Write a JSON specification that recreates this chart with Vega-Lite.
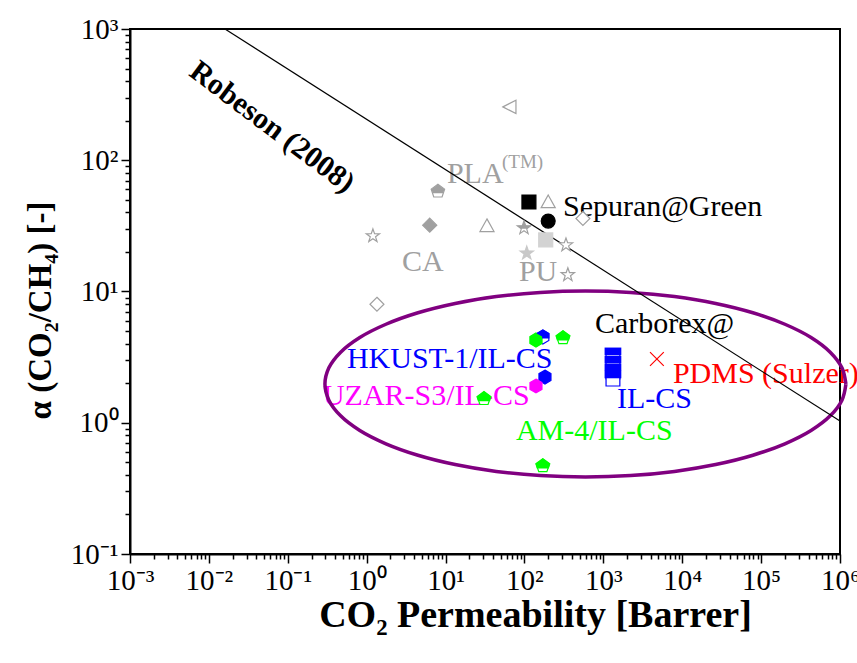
{
  "$schema": "https://vega.github.io/schema/vega-lite/v6.json",
  "autosize": "none",
  "width": 710,
  "height": 525,
  "padding": {"left": 130, "top": 29, "right": 17, "bottom": 109},
  "background": "white",
  "view": {"stroke": "black", "strokeWidth": 2},
  "config": {"font": "Liberation Serif"},
  "datasets": {
    "points": [
      {"series": "gTriLeft", "x": 65.5, "y": 255},
      {"series": "gPentHalf", "x": 8.0, "y": 58},
      {"series": "gDiamondFill", "x": 6.3, "y": 32},
      {"series": "gTriUp", "x": 33.5, "y": 31.6},
      {"series": "gTriUp", "x": 200, "y": 48.1},
      {"series": "gStarHalf", "x": 98.7, "y": 30.5},
      {"series": "lgStarFill", "x": 107, "y": 19.6},
      {"series": "lgSquareFill", "x": 186, "y": 24.7},
      {"series": "gStarOpen", "x": 336, "y": 22.6},
      {"series": "gStarOpen", "x": 355, "y": 13.4},
      {"series": "gStarOpen", "x": 1.2, "y": 26.5},
      {"series": "gDiamondOpen", "x": 551, "y": 36},
      {"series": "gDiamondOpen", "x": 1.35, "y": 8.0},
      {"series": "kSquare", "x": 114, "y": 48.1},
      {"series": "kCircle", "x": 200, "y": 34.4},
      {"series": "blueHexHalf", "x": 171, "y": 4.5},
      {"series": "greenHex", "x": 140, "y": 4.27},
      {"series": "greenPentHalf", "x": 308, "y": 4.42},
      {"series": "greenPentHalf", "x": 30.7, "y": 1.52},
      {"series": "greenPentHalf", "x": 171, "y": 0.468},
      {"series": "blueHex", "x": 182, "y": 2.23},
      {"series": "magentaHex", "x": 140, "y": 1.905},
      {"series": "blueSqHalf", "x": 1324, "y": 3.23},
      {"series": "blueSqHalf", "x": 1324, "y": 2.8},
      {"series": "blueSqHalf", "x": 1324, "y": 2.44},
      {"series": "blueSqHalf", "x": 1324, "y": 2.15},
      {"series": "redX", "x": 4775, "y": 3.06}
    ],
    "labels": [
      {"label": "Sepuran@Green", "group": "comm", "x": 307.6, "y": 44.1},
      {"label": "Carborex@", "group": "comm", "x": 783, "y": 5.65},
      {"label": "IL-CS", "group": "ilcs", "x": 1486, "y": 1.518},
      {"label": "PDMS (Sulzer)", "group": "pdms", "x": 7620, "y": 2.35},
      {"label": "AM-4/IL-CS", "group": "am4", "x": 78, "y": 0.865},
      {"label": "HKUST-1/IL-CS", "group": "hk", "x": 0.562, "y": 3.06},
      {"label": "UZAR-S3/IL-CS", "group": "uzar", "x": 0.279, "y": 1.6},
      {"label": "CA", "group": "poly", "x": 2.8, "y": 16.8},
      {"label": "PU", "group": "poly", "x": 85.1, "y": 14.1},
      {"label": "PLA", "group": "poly", "x": 10.4, "y": 78.5}
    ],
    "tm": [{"label": "(TM)", "x": 51.9, "y": 97}],
    "robesonLabel": [{"label": "Robeson (2008)", "x": 0.063, "y": 179}],
    "robeson": [{"x": 0.016, "y": 1000}, {"x": 1000000, "y": 1.03}],
    "ellipse": [
      {"i": 0, "x": 1189000, "y": 1.973},
      {"i": 1, "x": 1059000, "y": 2.62},
      {"i": 2, "x": 751600, "y": 3.447},
      {"i": 3, "x": 429500, "y": 4.462},
      {"i": 4, "x": 200400, "y": 5.63},
      {"i": 5, "x": 78700, "y": 6.887},
      {"i": 6, "x": 26550, "y": 8.109},
      {"i": 7, "x": 7980, "y": 9.143},
      {"i": 8, "x": 2218, "y": 9.84},
      {"i": 9, "x": 593, "y": 10.09},
      {"i": 10, "x": 158.4, "y": 9.84},
      {"i": 11, "x": 44.0, "y": 9.143},
      {"i": 12, "x": 13.24, "y": 8.109},
      {"i": 13, "x": 4.467, "y": 6.887},
      {"i": 14, "x": 1.754, "y": 5.63},
      {"i": 15, "x": 0.8185, "y": 4.462},
      {"i": 16, "x": 0.4677, "y": 3.447},
      {"i": 17, "x": 0.3319, "y": 2.62},
      {"i": 18, "x": 0.2958, "y": 1.973},
      {"i": 19, "x": 0.3319, "y": 1.486},
      {"i": 20, "x": 0.4677, "y": 1.129},
      {"i": 21, "x": 0.8185, "y": 0.8727},
      {"i": 22, "x": 1.754, "y": 0.6914},
      {"i": 23, "x": 4.467, "y": 0.5655},
      {"i": 24, "x": 13.24, "y": 0.4803},
      {"i": 25, "x": 44.0, "y": 0.4258},
      {"i": 26, "x": 158.4, "y": 0.3958},
      {"i": 27, "x": 593, "y": 0.3861},
      {"i": 28, "x": 2218, "y": 0.3958},
      {"i": 29, "x": 7980, "y": 0.4258},
      {"i": 30, "x": 26550, "y": 0.4803},
      {"i": 31, "x": 78700, "y": 0.5655},
      {"i": 32, "x": 200400, "y": 0.6914},
      {"i": 33, "x": 429500, "y": 0.8727},
      {"i": 34, "x": 751600, "y": 1.129},
      {"i": 35, "x": 1059000, "y": 1.486},
      {"i": 36, "x": 1189000, "y": 1.973}
    ]
  },
  "encoding": {
    "x": {
      "field": "x", "type": "quantitative",
      "scale": {"type": "log", "domain": [0.001, 1000000], "nice": false},
      "axis": {
        "title": "CO₂ Permeability [Barrer]",
        "values": [0.001,0.002,0.003,0.004,0.005,0.006,0.007,0.008,0.009,0.01,0.02,0.03,0.04,0.05,0.06,0.07,0.08,0.09,0.1,0.2,0.3,0.4,0.5,0.6,0.7,0.8,0.9,1,2,3,4,5,6,7,8,9,10,20,30,40,50,60,70,80,90,100,200,300,400,500,600,700,800,900,1000,2000,3000,4000,5000,6000,7000,8000,9000,10000,20000,30000,40000,50000,60000,70000,80000,90000,100000,200000,300000,400000,500000,600000,700000,800000,900000,1000000],
        "labelExpr": "abs(log(datum.value)/LN10 - round(log(datum.value)/LN10)) < 0.001 ? '10' + ['⁻³','⁻²','⁻¹','⁰','¹','²','³','⁴','⁵','⁶'][round(log(datum.value)/LN10)+3] : ''",
        "tickSize": {"condition": {"test": "abs(log(datum.value)/LN10 - round(log(datum.value)/LN10)) < 0.001", "value": 9}, "value": 5},
        "grid": false, "labelFlush": false, "labelOverlap": false, "labelBound": false,
        "labelFont": "Liberation Serif", "labelFontSize": 29, "labelColor": "black", "labelPadding": 3,
        "titleFont": "Liberation Serif", "titleFontSize": 38, "titleFontWeight": "bold", "titleColor": "black",
        "titleX": 405, "titleY": 61, "titleAlign": "center", "titleBaseline": "middle",
        "domainColor": "black", "domainWidth": 2, "tickColor": "black", "tickWidth": 1.5
      }
    },
    "y": {
      "field": "y", "type": "quantitative",
      "scale": {"type": "log", "domain": [0.1, 1000], "nice": false},
      "axis": {
        "title": "α (CO₂/CH₄) [-]",
        "values": [0.1,0.2,0.3,0.4,0.5,0.6,0.7,0.8,0.9,1,2,3,4,5,6,7,8,9,10,20,30,40,50,60,70,80,90,100,200,300,400,500,600,700,800,900,1000],
        "labelExpr": "abs(log(datum.value)/LN10 - round(log(datum.value)/LN10)) < 0.001 ? '10' + ['⁻³','⁻²','⁻¹','⁰','¹','²','³','⁴','⁵','⁶'][round(log(datum.value)/LN10)+3] : ''",
        "tickSize": {"condition": {"test": "abs(log(datum.value)/LN10 - round(log(datum.value)/LN10)) < 0.001", "value": 9}, "value": 5},
        "grid": false, "labelOverlap": false, "labelBound": false, "labelFlush": false,
        "labelFont": "Liberation Serif", "labelFontSize": 29, "labelColor": "black", "labelPadding": 3,
        "titleFont": "Liberation Serif", "titleFontSize": 33, "titleFontWeight": "bold", "titleColor": "black",
        "titleX": -90, "titleY": 281, "titleAngle": -90, "titleAlign": "center", "titleBaseline": "middle",
        "domainColor": "black", "domainWidth": 2, "tickColor": "black", "tickWidth": 1.5
      }
    }
  },
  "layer": [
    {
      "data": {"name": "labels"},
      "mark": {"type": "text", "align": "left", "baseline": "middle", "font": "Liberation Serif", "fontSize": 30},
      "encoding": {
        "text": {"field": "label"},
        "color": {"field": "group", "type": "nominal", "legend": null,
          "scale": {"domain": ["poly", "comm", "hk", "uzar", "am4", "ilcs", "pdms"],
                    "range": ["#A0A0A0", "#000000", "#0000FF", "#FF00FF", "#00FF00", "#0000FF", "#FF0000"]}}
      }
    },
    {
      "data": {"name": "tm"},
      "mark": {"type": "text", "align": "left", "baseline": "middle", "font": "Liberation Serif", "fontSize": 19, "color": "#A0A0A0"},
      "encoding": {"text": {"field": "label"}}
    },
    {
      "data": {"name": "robesonLabel"},
      "mark": {"type": "text", "align": "center", "baseline": "middle", "font": "Liberation Serif", "fontSize": 30, "fontWeight": "bold", "angle": 37, "color": "black"},
      "encoding": {"text": {"field": "label"}}
    },
    {
      "data": {"name": "ellipse"},
      "mark": {"type": "line", "color": "#800080", "strokeWidth": 3.5, "interpolate": "catmull-rom", "clip": false},
      "encoding": {"order": {"field": "i", "type": "quantitative"}}
    },
    {
      "data": {"name": "robeson"},
      "mark": {"type": "line", "color": "black", "strokeWidth": 1.2},
      "encoding": {}
    },
    {
      "data": {"name": "points"},
      "mark": {"type": "point", "filled": true, "opacity": 1, "strokeWidth": 1.2},
      "encoding": {
        "shape": {"field": "series", "type": "nominal", "legend": null,
          "scale": {"domain": ["gTriLeft","gPentHalf","gDiamondFill","gTriUp","gStarHalf","lgStarFill","lgSquareFill","gStarOpen","gDiamondOpen","kSquare","kCircle","greenHex","blueHexHalf","greenPentHalf","blueHex","magentaHex","blueSqHalf","redX"],
            "range": [
              "M-1,0L0.85,-0.95L0.85,0.95Z",
              "M0,-1L0.951,-0.309L0.588,0.809L-0.588,0.809L-0.951,-0.309Z",
              "M0,-1L1,0L0,1L-1,0Z",
              "M0,-1L1,0.8L-1,0.8Z",
              "M0,-1L0.235,-0.324L0.951,-0.309L0.38,0.124L0.588,0.809L0,0.4L-0.588,0.809L-0.38,0.124L-0.951,-0.309L-0.235,-0.324Z",
              "M0,-1L0.235,-0.324L0.951,-0.309L0.38,0.124L0.588,0.809L0,0.4L-0.588,0.809L-0.38,0.124L-0.951,-0.309L-0.235,-0.324Z",
              "M-1,-1L1,-1L1,1L-1,1Z",
              "M0,-1L0.235,-0.324L0.951,-0.309L0.38,0.124L0.588,0.809L0,0.4L-0.588,0.809L-0.38,0.124L-0.951,-0.309L-0.235,-0.324Z",
              "M0,-1L1,0L0,1L-1,0Z",
              "M-1,-1L1,-1L1,1L-1,1Z",
              "circle",
              "M0,-1L0.866,-0.5L0.866,0.5L0,1L-0.866,0.5L-0.866,-0.5Z",
              "M0,-1L0.866,-0.5L0.866,0.5L0,1L-0.866,0.5L-0.866,-0.5Z",
              "M0,-1L0.951,-0.309L0.588,0.809L-0.588,0.809L-0.951,-0.309Z",
              "M0,-1L0.866,-0.5L0.866,0.5L0,1L-0.866,0.5L-0.866,-0.5Z",
              "M0,-1L0.866,-0.5L0.866,0.5L0,1L-0.866,0.5L-0.866,-0.5Z",
              "M-1,-1L1,-1L1,1L-1,1Z",
              "M-1,-1L1,1M-1,1L1,-1"
            ]}},
        "fill": {"field": "series", "type": "nominal", "legend": null,
          "scale": {"domain": ["gTriLeft","gPentHalf","gDiamondFill","gTriUp","gStarHalf","lgStarFill","lgSquareFill","gStarOpen","gDiamondOpen","kSquare","kCircle","greenHex","blueHexHalf","greenPentHalf","blueHex","magentaHex","blueSqHalf","redX"],
            "range": ["#FFFFFF","#FFFFFF","#A0A0A0","#FFFFFF","#FFFFFF","#C8C8C8","#D3D3D3","#FFFFFF","#FFFFFF","#000000","#000000","#00FF00","#FFFFFF","#FFFFFF","#0000FF","#FF00FF","#FFFFFF","transparent"]}},
        "stroke": {"field": "series", "type": "nominal", "legend": null,
          "scale": {"domain": ["gTriLeft","gPentHalf","gDiamondFill","gTriUp","gStarHalf","lgStarFill","lgSquareFill","gStarOpen","gDiamondOpen","kSquare","kCircle","greenHex","blueHexHalf","greenPentHalf","blueHex","magentaHex","blueSqHalf","redX"],
            "range": ["#A0A0A0","#A0A0A0","#A0A0A0","#A0A0A0","#A0A0A0","#C8C8C8","#D3D3D3","#A0A0A0","#A0A0A0","#000000","#000000","#00FF00","#0000FF","#00FF00","#0000FF","#FF00FF","#0000FF","#FF0000"]}},
        "size": {"field": "series", "type": "nominal", "legend": null,
          "scale": {"domain": ["gTriLeft","gPentHalf","gDiamondFill","gTriUp","gStarHalf","lgStarFill","lgSquareFill","gStarOpen","gDiamondOpen","kSquare","kCircle","greenHex","blueHexHalf","greenPentHalf","blueHex","magentaHex","blueSqHalf","redX"],
            "range": [200,190,230,200,280,280,150,280,230,130,170,200,200,190,200,200,140,150]}}
      }
    },
    {
      "data": {"name": "points"},
      "transform": [{"filter": {"field": "series", "oneOf": ["gPentHalf","gStarHalf","blueHexHalf","greenPentHalf","blueSqHalf"]}}],
      "mark": {"type": "point", "filled": true, "opacity": 1, "strokeWidth": 0},
      "encoding": {
        "shape": {"field": "series", "type": "nominal", "legend": null,
          "scale": {"domain": ["gPentHalf","gStarHalf","blueHexHalf","greenPentHalf","blueSqHalf"],
            "range": [
              "M0,-1L0.951,-0.309L0.753,0.3L-0.753,0.3L-0.951,-0.309Z",
              "M0,-1L0.235,-0.324L0.951,-0.309L0.38,0.124L-0.38,0.124L-0.951,-0.309L-0.235,-0.324Z",
              "M0,-1L0.866,-0.5L0.866,0.2L-0.866,0.2L-0.866,-0.5Z",
              "M0,-1L0.951,-0.309L0.753,0.3L-0.753,0.3L-0.951,-0.309Z",
              "M-1,-1L1,-1L1,-0.1L-1,-0.1Z"
            ]}},
        "fill": {"field": "series", "type": "nominal", "legend": null,
          "scale": {"domain": ["gPentHalf","gStarHalf","blueHexHalf","greenPentHalf","blueSqHalf"],
            "range": ["#A0A0A0","#A0A0A0","#0000FF","#00FF00","#0000FF"]}},
        "size": {"field": "series", "type": "nominal", "legend": null,
          "scale": {"domain": ["gPentHalf","gStarHalf","blueHexHalf","greenPentHalf","blueSqHalf"],
            "range": [190,280,200,190,140]}}
      }
    },
    {
      "data": {"name": "points"},
      "transform": [{"filter": {"field": "series", "equal": "greenHex"}}],
      "mark": {"type": "point", "filled": true, "opacity": 1, "color": "#00FF00", "size": 200,
        "shape": "M0,-1L0.866,-0.5L0.866,0.5L0,1L-0.866,0.5L-0.866,-0.5Z"},
      "encoding": {}
    }
  ],
  "resolve": {"scale": {"shape": "independent", "fill": "independent", "stroke": "independent", "size": "independent", "color": "independent"}}
}
